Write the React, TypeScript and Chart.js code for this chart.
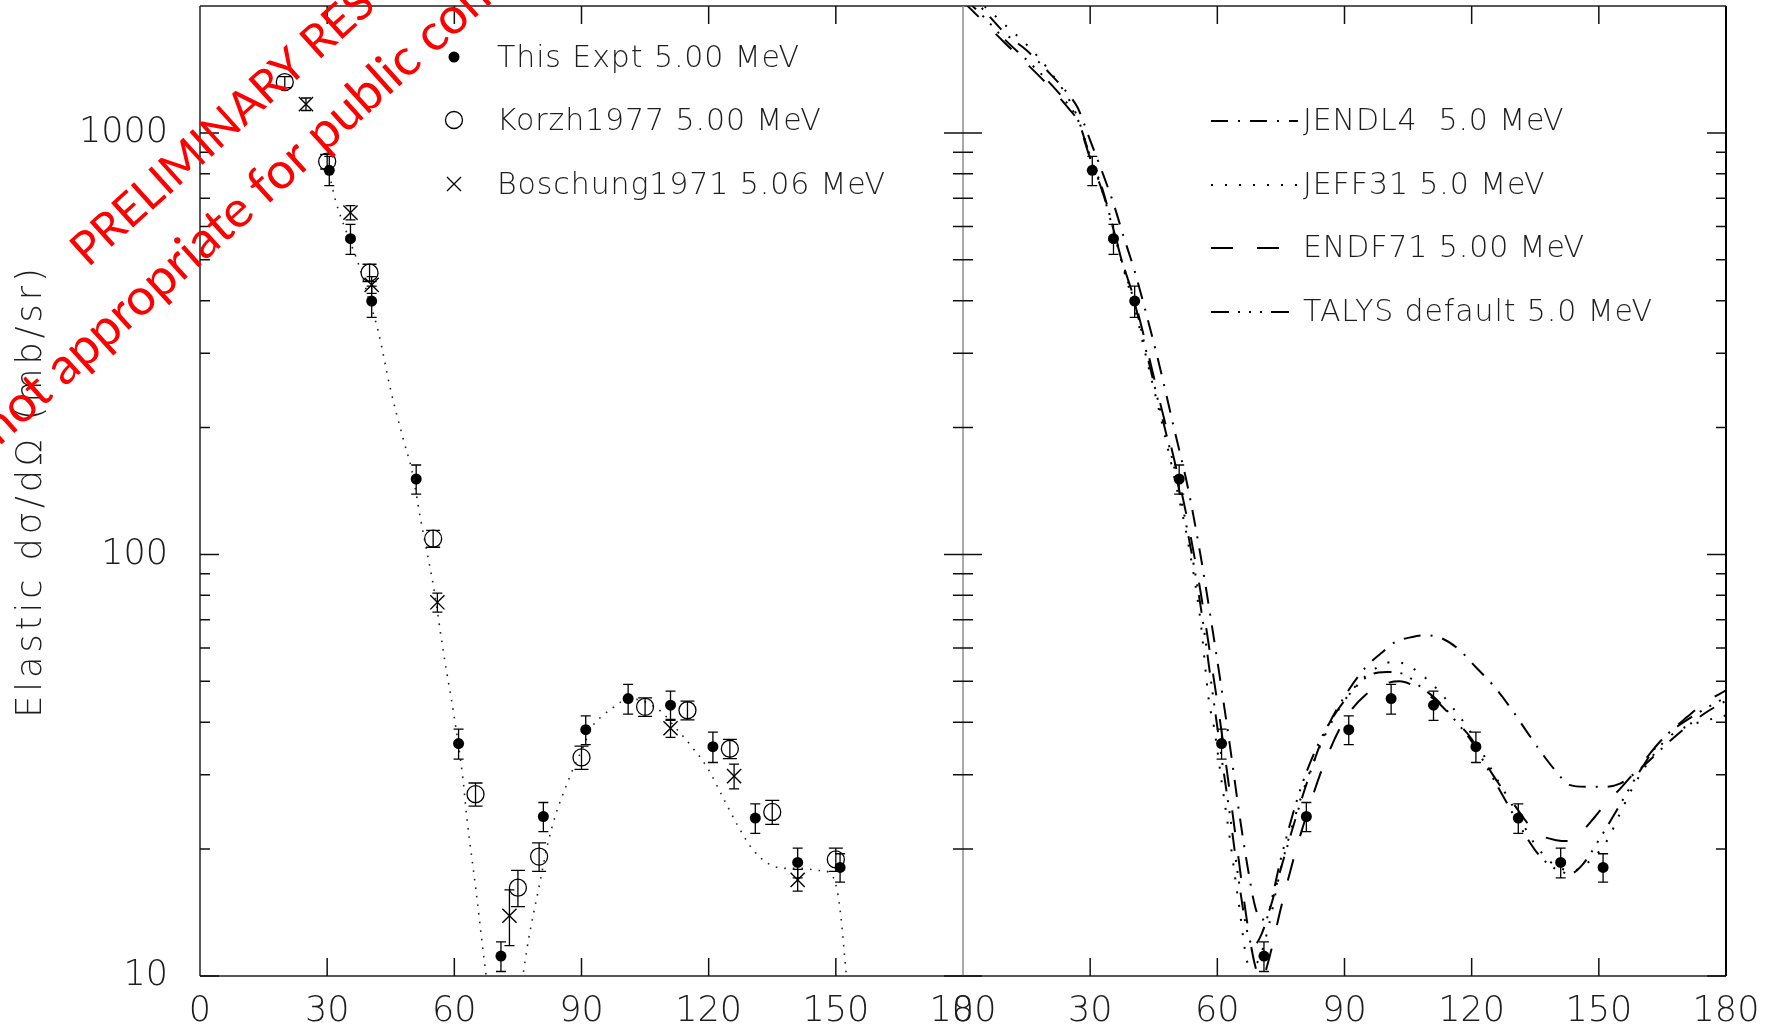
import { useEffect, useRef } from 'react';
import { Chart, registerables } from 'chart.js';

Chart.register(...registerables);

// ---------------- data ----------------
const xTickValues = [0, 30, 60, 90, 120, 150, 180];
const yTickValues = [10, 100, 1000];
const yMin = 10;
const yMax = 2000;

// This experiment 5.00 MeV (shown in both panels)
const exptAngles = [30.5, 35.5, 40.5, 51, 61, 71, 81, 91, 101, 111, 121, 131, 141, 151];
const exptValues = [815, 561, 399, 151, 35.6, 11.15, 23.9, 38.4, 45.5, 43.9, 35.0, 23.7, 18.6, 18.1];
const exptErrors = [65, 46, 34, 12, 2.9, 0.9, 1.9, 3.0, 3.7, 3.5, 2.9, 1.9, 1.5, 1.4];

// Korzh1977 5.00 MeV
const korzhAngles = [20, 30, 40, 55, 65, 75, 80, 90, 105, 115, 125, 135, 150];
const korzhValues = [1320, 855, 466, 109, 27.0, 16.2, 19.2, 33.0, 43.5, 42.7, 34.6, 24.5, 18.9];
const korzhErrors = [40, 34, 22, 5, 1.7, 1.6, 1.5, 2.1, 2.2, 2.2, 1.8, 1.6, 1.2];

// Boschung1971 5.06 MeV
const boschAngles = [25, 35.5, 40.5, 56, 73, 111, 126, 141];
const boschValues = [1170, 647, 436, 77, 13.9, 38.7, 29.8, 16.9];
const boschErrors = [40, 25, 20, 4, 2.1, 1.9, 2.0, 1.0];

// dotted fit curve in left panel
const fitAngles = [30, 32, 35, 37.5, 40, 42, 45, 48, 50, 52, 54, 55, 57.5, 60, 62, 63, 65, 67, 68, 70, 72, 74, 76, 77.5, 80, 82, 84, 86, 88, 90, 92.5, 95, 97, 100, 103, 106, 109, 112, 116, 119.6, 123.3, 127, 130.5, 134, 138, 142, 146, 148.5, 150.3, 151.2, 152.5, 153.5];
const fitValues = [840, 690, 566, 485, 398, 340, 245, 187, 158, 122, 96, 85, 58, 41, 29.5, 23.5, 16.3, 11, 9.2, 7, 6.5, 7.5, 9.8, 12.2, 16.3, 20.5, 24.3, 27.6, 31, 34.2, 39, 41.5, 43, 45, 45.3, 44.2, 42.2, 39, 35, 31.3, 26.6, 22.6, 19.9, 18.5, 18.0, 18.0, 17.8, 17.6, 16.0, 13.8, 10, 8];

// evaluations (right panel)
const jendlAngles = [0, 5, 10, 15, 20, 25, 27, 30, 33, 35.5, 38, 40.5, 43, 46, 50, 53, 56, 58.5, 61, 63, 65, 67, 69, 70.5, 72, 75, 80, 85, 90, 95, 99, 102, 106, 109, 113, 117, 121, 125, 129, 133, 137, 140, 143, 147, 151, 155, 158, 162, 166, 170, 175, 180];
const jendlValues = [2200, 1950, 1720, 1570, 1400, 1230, 1150, 960, 800, 680, 563, 470, 380, 290, 195, 145, 100, 70, 48, 35, 25, 18.5, 14.5, 13.6, 14.1, 18, 26.5, 37, 46, 54, 58.7, 62, 63.7, 64.3, 63.2, 59.5, 54, 49, 43.5, 38, 33.3, 30.5, 28.4, 28.1, 28.1, 28.6, 30, 32.5, 35.5, 38.5, 42, 45];

const jeffAngles = [0, 5, 10, 15, 20, 25, 27, 30, 33, 35.5, 38, 40.5, 43, 46, 50, 53, 56, 58, 59.2, 61, 63, 65, 67.5, 69.5, 72, 75, 80, 85, 90, 95, 100, 102, 105, 110, 115, 120, 125, 130, 135, 140, 144, 148, 152, 155, 158, 162, 166, 170, 175, 180];
const jeffValues = [2200, 2000, 1800, 1620, 1420, 1200, 1090, 880, 720, 585, 470, 385, 300, 225, 150, 108, 70, 45, 39, 29, 21, 15, 10.6, 10.8, 13, 18, 27, 36.5, 45, 51.5, 55.3, 55.6, 54.5, 50, 44, 37.5, 30.5, 25, 20.5, 18.2, 17.8, 18.8, 21, 24.3, 28, 32.5, 36.5, 38.8, 40.3, 41.5];

const endfAngles = [0, 5, 10, 15, 20, 25, 27, 30, 33, 35.5, 38, 40.5, 43, 46, 50, 53, 56, 59, 61, 63, 65, 67, 69, 70.5, 72, 75, 78, 81, 85, 90, 95, 100, 103, 106, 109, 112, 116, 120, 125, 130, 135, 140, 143, 146, 149, 152, 155, 160, 165, 170, 175, 180];
const endfValues = [2050, 1830, 1630, 1460, 1300, 1140, 1070, 870, 720, 590, 480, 400, 320, 240, 165, 120, 82, 52, 38, 27, 19, 13.5, 10.5, 9.8, 10.8, 14.5, 19, 24, 31.5, 40.5, 46.5, 49.5, 50, 49, 47, 44.6, 40.5, 36.5, 30, 25.5, 22, 21, 20.9, 22, 23.8, 25.9, 27.8, 31.8, 36.5, 40.5, 44.5, 47.6];

const talysAngles = [0, 5, 10, 15, 20, 25, 27, 30, 33, 35.5, 38, 40.5, 43, 46, 50, 53, 56, 59, 61, 63, 65, 67, 68.5, 70, 72, 75, 80, 85, 90, 95, 98, 100, 104, 108, 112, 116, 120, 125, 130, 133, 136, 140, 143.3, 146, 150, 155, 160, 165, 170, 175, 180];
const talysValues = [2100, 1880, 1660, 1490, 1330, 1160, 1080, 880, 730, 590, 475, 395, 310, 232, 158, 113, 76, 46, 33, 24, 17, 12.8, 11.8, 12.3, 14, 19, 28.5, 37.5, 45, 51, 52.5, 52.6, 52, 48.5, 45, 40.5, 36, 29.5, 24, 21.3, 19.3, 17.9, 17.5, 18.3, 21, 25.5, 31, 36.5, 40, 43, 45.8];

const leftLegend = ['This Expt 5.00 MeV', 'Korzh1977 5.00 MeV', 'Boschung1971 5.06 MeV'];
const rightLegend = ['JENDL4  5.0 MeV', 'JEFF31 5.0 MeV', 'ENDF71 5.00 MeV', 'TALYS default 5.0 MeV'];
const yTitle = 'Elastic dσ/dΩ (mb/sr)';
const watermark1 = 'PRELIMINARY RESULTS';
const watermark2 = 'not appropriate for public consumption';

// ---------------- styling ----------------
const FONT = '"DejaVu Sans", "Liberation Sans", sans-serif';
const WEIGHT = '200';
const TEXT = '#1e1e1e';
const PANEL_OFFSET = 180; // right panel drawn at x + 180 on a shared 0..360 axis

const dashJendl = [17, 10, 2, 10];
const dashJeff = [2, 12];
const dashEndf = [22, 24];
const dashTalys = [18, 9, 2, 9, 2, 9, 2, 9];

const pts = (a: number[], v: number[], off = 0) => a.map((x, i) => ({ x: x + off, y: v[i] }));

const curve = (a: number[], v: number[], dash: number[], width: number) => ({
  data: pts(a, v, PANEL_OFFSET),
  showLine: true,
  borderColor: '#000',
  borderWidth: width,
  borderDash: dash,
  pointRadius: 0,
  cubicInterpolationMode: 'monotone',
  fill: false,
});

const minorY: number[] = [];
for (const d of [10, 100, 1000]) {
  for (let k = 2; k <= 9; k++) {
    if (d * k < yMax) minorY.push(d * k);
  }
}

const decorPlugin = {
  id: 'decor',
  afterDatasetsDraw(chart: any) {
    const { ctx, chartArea: a } = chart;
    const xs = chart.scales.x;
    const ys = chart.scales.y;
    const xm = xs.getPixelForValue(180);

    // error bars
    ctx.save();
    ctx.beginPath();
    ctx.rect(a.left, a.top, a.right - a.left, a.bottom - a.top);
    ctx.clip();
    ctx.strokeStyle = '#000';
    ctx.lineWidth = 1.3;
    for (const ds of chart.data.datasets) {
      if (!ds.errors) continue;
      const c = ds.capHalf || 5;
      ds.data.forEach((p: any, i: number) => {
        const e = ds.errors[i];
        const px = xs.getPixelForValue(p.x);
        const y1 = ys.getPixelForValue(p.y - e);
        const y2 = ys.getPixelForValue(p.y + e);
        ctx.beginPath();
        ctx.moveTo(px, y1);
        ctx.lineTo(px, y2);
        ctx.moveTo(px - c, y1);
        ctx.lineTo(px + c, y1);
        ctx.moveTo(px - c, y2);
        ctx.lineTo(px + c, y2);
        ctx.stroke();
      });
    }
    ctx.restore();

    // frame
    ctx.save();
    ctx.lineCap = 'butt';
    ctx.strokeStyle = '#222';
    ctx.lineWidth = 1.5;
    ctx.beginPath();
    ctx.moveTo(a.left, a.top);
    ctx.lineTo(a.right, a.top);
    ctx.moveTo(a.left, a.bottom);
    ctx.lineTo(a.right, a.bottom);
    ctx.moveTo(a.left, a.top);
    ctx.lineTo(a.left, a.bottom);
    ctx.stroke();
    ctx.strokeStyle = '#000';
    ctx.lineWidth = 2;
    ctx.beginPath();
    ctx.moveTo(a.right, a.top);
    ctx.lineTo(a.right, a.bottom);
    ctx.stroke();
    ctx.strokeStyle = '#8c8c8c';
    ctx.lineWidth = 1.5;
    ctx.beginPath();
    ctx.moveTo(xm, a.top);
    ctx.lineTo(xm, a.bottom);
    ctx.stroke();

    // y ticks (inside, both sides of the middle axis)
    ctx.strokeStyle = '#111';
    ctx.lineWidth = 1.5;
    ctx.beginPath();
    for (const v of [...yTickValues, ...minorY]) {
      const L = yTickValues.includes(v) ? 19 : 10;
      const py = ys.getPixelForValue(v);
      ctx.moveTo(a.left, py);
      ctx.lineTo(a.left + L, py);
      ctx.moveTo(xm - L, py);
      ctx.lineTo(xm + L, py);
      ctx.moveTo(a.right - L, py);
      ctx.lineTo(a.right, py);
    }
    // x ticks top & bottom
    for (const v of xTickValues) {
      if (v === 0 || v === 180) continue;
      for (const off of [0, PANEL_OFFSET]) {
        const px = xs.getPixelForValue(v + off);
        ctx.moveTo(px, a.bottom);
        ctx.lineTo(px, a.bottom - 18);
        ctx.moveTo(px, a.top);
        ctx.lineTo(px, a.top + 18);
      }
    }
    ctx.stroke();
    ctx.restore();
  },
  afterDraw(chart: any) {
    const { ctx, chartArea: a } = chart;
    const ds = chart.data.datasets;

    // y axis title
    ctx.save();
    ctx.translate(32, (a.top + a.bottom) / 2);
    ctx.rotate(-Math.PI / 2);
    ctx.font = `${WEIGHT} 35px ${FONT}`;
    ctx.fillStyle = TEXT;
    ctx.textAlign = 'center';
    ctx.textBaseline = 'middle';
    (ctx as any).letterSpacing = '4px';
    ctx.fillText(yTitle, 0, 0);
    ctx.restore();

    // left legend
    ctx.save();
    ctx.font = `${WEIGHT} 30px ${FONT}`;
    ctx.fillStyle = TEXT;
    ctx.textBaseline = 'middle';
    (ctx as any).letterSpacing = '0.9px';
    const lx = 454;
    const ly = [57, 120, 184];
    ctx.fillText(leftLegend[0], 497, ly[0] + 2);
    ctx.fillText(leftLegend[1], 497, ly[1] + 2);
    ctx.fillText(leftLegend[2], 497, ly[2] + 2);
    ctx.fillStyle = '#000';
    ctx.beginPath();
    ctx.arc(lx, ly[0], 5.5, 0, Math.PI * 2);
    ctx.fill();
    ctx.strokeStyle = '#000';
    ctx.lineWidth = 1.3;
    ctx.beginPath();
    ctx.arc(lx, ly[1], 8.5, 0, Math.PI * 2);
    ctx.stroke();
    ctx.beginPath();
    ctx.moveTo(lx - 7, ly[2] - 7);
    ctx.lineTo(lx + 7, ly[2] + 7);
    ctx.moveTo(lx + 7, ly[2] - 7);
    ctx.lineTo(lx - 7, ly[2] + 7);
    ctx.stroke();
    ctx.restore();

    // right legend
    ctx.save();
    ctx.font = `${WEIGHT} 30px ${FONT}`;
    ctx.textBaseline = 'middle';
    (ctx as any).letterSpacing = '0.9px';
    const ry = [121, 185, 248, 312];
    const lineSets = [ds[5], ds[6], ds[7], ds[8]];
    lineSets.forEach((d: any, i: number) => {
      ctx.strokeStyle = '#000';
      ctx.lineWidth = d.borderWidth;
      ctx.setLineDash(d.borderDash);
      ctx.beginPath();
      ctx.moveTo(1211, ry[i]);
      ctx.lineTo(1298, ry[i]);
      ctx.stroke();
      ctx.fillStyle = TEXT;
      ctx.fillText(rightLegend[i], 1303, ry[i] + 1);
    });
    ctx.restore();

    // watermark
    const ang = (-42 * Math.PI) / 180;
    const ux = Math.cos(ang);
    const uy = Math.sin(ang);
    ctx.save();
    ctx.fillStyle = '#ff0000';
    ctx.translate(88, 268);
    ctx.rotate(ang);
    ctx.font = `46px Lato, "Liberation Sans", sans-serif`;
    ctx.textBaseline = 'alphabetic';
    ctx.fillText(watermark1, 0, 0);
    ctx.restore();

    ctx.save();
    ctx.fillStyle = '#ff0000';
    ctx.font = `51px Lato, "Liberation Sans", sans-serif`;
    const pre = ctx.measureText('not appropriate for ').width;
    ctx.translate(324 - pre * ux, 154 - pre * uy);
    ctx.rotate(ang);
    ctx.fillText(watermark2, 0, 0);
    ctx.restore();
  },
};

export default function App() {
  const ref = useRef<HTMLCanvasElement>(null);

  useEffect(() => {
    const canvas = ref.current;
    if (!canvas) return;
    const chart = new Chart(canvas, {
      type: 'scatter',
      data: {
        datasets: [
          {
            data: pts(fitAngles, fitValues),
            showLine: true,
            borderColor: '#222',
            borderWidth: 1.6,
            borderDash: [1.6, 7],
            pointRadius: 0,
            cubicInterpolationMode: 'monotone',
          },
          {
            data: pts(korzhAngles, korzhValues),
            errors: korzhErrors,
            capHalf: 7,
            pointStyle: 'circle',
            pointRadius: 8.5,
            pointBackgroundColor: 'rgba(0,0,0,0)',
            pointBorderColor: '#000',
            pointBorderWidth: 1.3,
          },
          {
            data: pts(boschAngles, boschValues),
            errors: boschErrors,
            capHalf: 5,
            pointStyle: 'crossRot',
            pointRadius: 10,
            pointBorderColor: '#000',
            pointBorderWidth: 1.4,
          },
          {
            data: pts(exptAngles, exptValues),
            errors: exptErrors,
            capHalf: 5,
            pointStyle: 'circle',
            pointRadius: 5.5,
            pointBackgroundColor: '#000',
            pointBorderColor: '#000',
            pointBorderWidth: 0,
          },
          {
            data: pts(exptAngles, exptValues, PANEL_OFFSET),
            errors: exptErrors,
            capHalf: 5,
            pointStyle: 'circle',
            pointRadius: 5.5,
            pointBackgroundColor: '#000',
            pointBorderColor: '#000',
            pointBorderWidth: 0,
          },
          curve(jendlAngles, jendlValues, dashJendl, 2),
          curve(jeffAngles, jeffValues, dashJeff, 2),
          curve(endfAngles, endfValues, dashEndf, 2),
          curve(talysAngles, talysValues, dashTalys, 2),
        ] as any,
      },
      options: {
        responsive: false,
        animation: false,
        events: [],
        layout: { autoPadding: false, padding: { left: 0, top: 6, right: 53, bottom: 0 } },
        plugins: {
          legend: { display: false },
          tooltip: { enabled: false },
        },
        scales: {
          x: {
            type: 'linear',
            min: 0,
            max: 360,
            afterBuildTicks: (s: any) => {
              s.ticks = [
                ...xTickValues.map((v) => ({ value: v })),
                ...xTickValues.map((v) => ({ value: v + PANEL_OFFSET })),
              ];
            },
            afterFit: (s: any) => {
              s.height = 58;
              s.paddingLeft = 0;
              s.paddingRight = 0;
              s.paddingTop = 0;
              s.paddingBottom = 0;
            },
            grid: { display: false, drawTicks: false },
            border: { display: false },
            ticks: {
              autoSkip: false,
              maxRotation: 0,
              padding: 15,
              color: TEXT,
              font: { family: FONT, size: 35, weight: WEIGHT },
              callback: (v: any, i: number) => String(i < xTickValues.length ? v : v - PANEL_OFFSET),
            },
          },
          y: {
            type: 'logarithmic',
            min: yMin,
            max: yMax,
            afterBuildTicks: (s: any) => {
              s.ticks = yTickValues.map((v) => ({ value: v, major: true }));
            },
            afterFit: (s: any) => {
              s.width = 200;
              s.paddingLeft = 0;
              s.paddingRight = 0;
              s.paddingTop = 0;
              s.paddingBottom = 0;
            },
            grid: { display: false, drawTicks: false },
            border: { display: false },
            ticks: {
              padding: 32,
              color: TEXT,
              font: { family: FONT, size: 35, weight: WEIGHT },
              callback: (v: any) => String(v),
            },
          },
        },
      } as any,
      plugins: [decorPlugin],
    });
    return () => chart.destroy();
  }, []);

  return (
    <div style={{ position: 'fixed', left: 0, top: 0, width: 1779, height: 1034, background: '#fff' }}>
      <canvas ref={ref} width={1779} height={1034} style={{ display: 'block' }} />
    </div>
  );
}
